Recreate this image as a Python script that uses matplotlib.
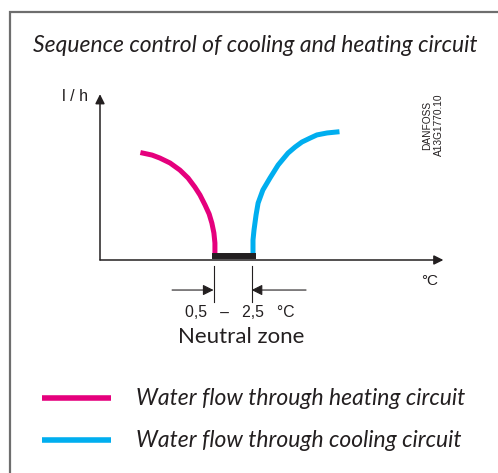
import numpy as np
import matplotlib.pyplot as plt

# schematic curves (arbitrary units, x: temperature, y: flow)
heat_x = [1.26, 1.53, 1.76, 2.06, 2.35, 2.59, 2.79, 2.94, 3.09, 3.21, 3.29, 3.35, 3.38, 3.38]
heat_y = [6.48, 6.36, 6.18, 5.88, 5.45, 4.97, 4.42, 3.94, 3.33, 2.79, 2.24, 1.64, 1.03, 0.40]
cool_x = [4.50, 4.50, 4.53, 4.59, 4.65, 4.79, 5.00, 5.24, 5.53, 5.74, 5.94, 6.18, 6.38, 6.68, 6.97]
cool_y = [0.40, 1.21, 1.82, 2.73, 3.45, 4.24, 4.97, 5.76, 6.48, 6.85, 7.15, 7.39, 7.58, 7.70, 7.76]
neutral_zone = [3.30, 4.60]
dim_marks = [3.34, 4.46]
labels = ['Water flow through heating circuit', 'Water flow through cooling circuit']
title = 'Sequence control of cooling and heating circuit'

magenta = '#E5007D'
cyan = '#00AEEF'
ink = '#231F20'

fig = plt.figure(figsize=(4.98, 4.73), dpi=100)

# background layer in pixel coordinates: frame, title, legend
bg = fig.add_axes([0, 0, 1, 1])
bg.set_xlim(0, 498)
bg.set_ylim(473, 0)
bg.axis('off')
bg.plot([9.5, 9.5, 498], [473, 12, 12], color='#6e6e6e', lw=1.6, solid_joinstyle='miter')
bg.text(255, 46, title, ha='center', va='center', fontsize=16.5, style='italic',
        family='Lato', color=ink)

for i, (lab, col) in enumerate(zip(labels, [magenta, cyan])):
    yy = 398 + i * 42
    bg.plot([42, 111], [yy, yy], color=col, lw=4, solid_capstyle='butt')
    bg.text(136, yy, lab, ha='left', va='center', fontsize=16.5, style='italic',
            family='Lato', color=ink)

bg.text(433, 125, 'DANFOSS\nA13G1770.10', rotation=90, ha='center', va='center',
        fontsize=7.3, family='Liberation Sans', color=ink, linespacing=1.15)

# chart area
ax = fig.add_axes([100 / 498, (473 - 260) / 473, 340 / 498, 165 / 473])
ax.set_xlim(0, 10)
ax.set_ylim(0, 10)
ax.axis('off')

arrow = dict(arrowstyle='-|>', lw=1.1, color=ink, mutation_scale=14, shrinkA=0, shrinkB=0)
ax.annotate('', xy=(10.1, 0), xytext=(0, 0), arrowprops=arrow, annotation_clip=False)
ax.annotate('', xy=(0, 10.05), xytext=(0, 0), arrowprops=arrow, annotation_clip=False)

ax.plot(heat_x, heat_y, color=magenta, lw=3.6, solid_joinstyle='round', clip_on=False)
ax.plot(cool_x, cool_y, color=cyan, lw=3.6, solid_joinstyle='round', clip_on=False)
ax.plot(neutral_zone, [0.27, 0.27], color=ink, lw=4.3, solid_capstyle='butt', clip_on=False)

# neutral zone dimension
for xm in dim_marks:
    ax.plot([xm, xm], [-0.35, -2.55], color=ink, lw=0.8, clip_on=False)
darrow = dict(arrowstyle='-|>', lw=0.8, color=ink, mutation_scale=16, shrinkA=0, shrinkB=0)
ax.annotate('', xy=(dim_marks[0], -1.82), xytext=(2.12, -1.82), arrowprops=darrow,
            annotation_clip=False)
ax.annotate('', xy=(dim_marks[1], -1.82), xytext=(6.06, -1.82), arrowprops=darrow,
            annotation_clip=False)
ax.text(4.12, -3.2, '0,5   \u2013   2,5   °C', ha='center', va='center', fontsize=11.3,
        family='Liberation Sans', color=ink)
ax.text(4.15, -4.65, 'Neutral zone', ha='center', va='center', fontsize=16,
        family='Lato', color=ink)

ax.text(9.7, -1.3, '°C', ha='center', va='center', fontsize=11,
        family='Liberation Sans', color=ink)
ax.text(-0.35, 9.9, 'l / h', ha='right', va='center', fontsize=11.5,
        family='Liberation Sans', color=ink)

fig.savefig('out.png', dpi=100)
